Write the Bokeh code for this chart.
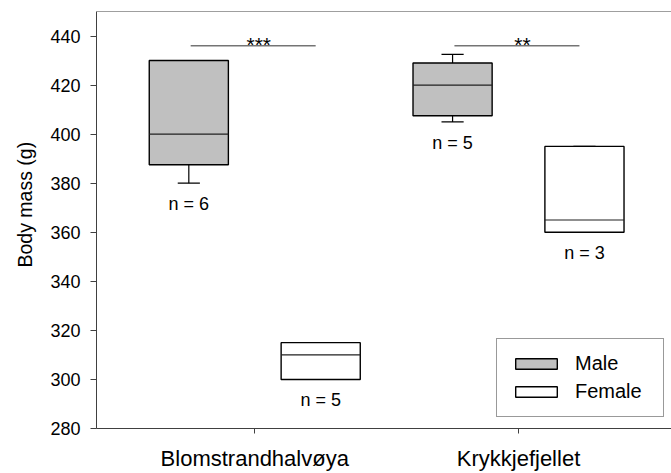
import numpy as np
from bokeh.plotting import figure
from bokeh.models import FixedTicker, Span, Title, Legend, LegendItem, ColumnDataSource
from bokeh.core.properties import value
from bokeh.embed import file_html
from bokeh.resources import INLINE

# ---------------- data ----------------
sites = ["Blomstrandhalvøya", "Krykkjefjellet"]
groups = ["Male", "Female"]

male_q1 = [387.5, 407.5]
male_med = [400.0, 420.0]
male_q3 = [430.0, 429.0]
male_wlo = [380.0, 405.0]
male_whi = [430.0, 432.5]
male_n = [6, 5]

female_q1 = [300.0, 360.0]
female_med = [310.0, 365.0]
female_q3 = [315.0, 395.0]
female_wlo = [300.0, 360.0]
female_whi = [315.0, 395.0]
female_n = [5, 3]

sig_labels = ["***", "**"]
y_ticks = [280, 300, 320, 340, 360, 380, 400, 420, 440]

# ---------------- styling ----------------
FONT = "Liberation Sans"
AXIS_COLOR = "#404040"
MALE_FILL = "#c0c0c0"
FEMALE_FILL = "#ffffff"
OFFSET = 0.25
BOX_W = 0.30
CAP_W = 0.084
X_START, X_END = 0.40, 2.58
Y_START, Y_END = 280, 450

p = figure(width=671, height=473, x_range=(X_START, X_END), y_range=(Y_START, Y_END),
           output_backend="svg", toolbar_location=None,
           min_border_left=96, min_border_right=0, min_border_top=11, min_border_bottom=44)
p.outline_line_color = None
p.grid.visible = False
p.background_fill_color = "white"
p.border_fill_color = "white"

site_x = np.arange(1, len(sites) + 1, dtype=float)


def draw_group(xs, q1, med, q3, wlo, whi, ns, fill):
    src = ColumnDataSource(dict(
        x=xs, q1=q1, med=med, q3=q3, wlo=wlo, whi=whi,
        xl=xs - BOX_W / 2, xr=xs + BOX_W / 2,
        cl=xs - CAP_W / 2, cr=xs + CAP_W / 2,
        lab=[f"n = {n}" for n in ns],
    ))
    # whiskers
    p.segment(x0="x", y0="q1", x1="x", y1="wlo", source=src, line_color="black", line_width=1.2)
    p.segment(x0="x", y0="q3", x1="x", y1="whi", source=src, line_color="black", line_width=1.2)
    p.segment(x0="cl", y0="wlo", x1="cr", y1="wlo", source=src, line_color="black", line_width=1.2)
    p.segment(x0="cl", y0="whi", x1="cr", y1="whi", source=src, line_color="black", line_width=1.2)
    # box
    r = p.vbar(x="x", width=BOX_W, bottom="q1", top="q3", source=src,
               fill_color=fill, line_color="black", line_width=1.4)
    # median
    p.segment(x0="xl", y0="med", x1="xr", y1="med", source=src, line_color="#202020", line_width=1.2)
    # n labels
    p.text(x="x", y="wlo", text="lab", source=src, text_align="center", text_baseline="middle",
           y_offset=21, text_font=value(FONT), text_font_size="18px", text_color="black")
    return r


r_male = draw_group(site_x - OFFSET, male_q1, male_med, male_q3, male_wlo, male_whi, male_n, MALE_FILL)
r_female = draw_group(site_x + OFFSET, female_q1, female_med, female_q3, female_wlo, female_whi, female_n, FEMALE_FILL)

# significance bars
SIG_Y = 436
sig_src = ColumnDataSource(dict(
    x0=site_x - 0.243, x1=site_x + 0.231, y=[SIG_Y] * len(sites),
    tx=site_x + 0.015, lab=sig_labels,
))
p.segment(x0="x0", y0="y", x1="x1", y1="y", source=sig_src, line_color="#303030", line_width=1)
p.text(x="tx", y="y", text="lab", source=sig_src, text_align="center", text_baseline="alphabetic",
       y_offset=-1, text_font=value(FONT), text_font_size="21px", text_color="black")

# top frame line
p.add_layout(Span(location=Y_END, dimension="width", line_color=AXIS_COLOR, line_width=1))

# axes
p.xaxis.ticker = FixedTicker(ticks=list(site_x))
p.xaxis.major_label_overrides = {float(x): s for x, s in zip(site_x, sites)}
p.xaxis.major_label_overrides.update({int(x): s for x, s in zip(site_x, sites)})
p.yaxis.ticker = FixedTicker(ticks=y_ticks)
for ax in (p.xaxis[0], p.yaxis[0]):
    ax.axis_line_color = AXIS_COLOR
    ax.axis_line_width = 1
    ax.major_tick_line_color = AXIS_COLOR
    ax.major_tick_in = 0
    ax.minor_tick_line_color = None
    ax.major_label_text_font = FONT
    ax.major_label_text_color = "black"
p.yaxis.major_tick_out = 6
p.yaxis.major_label_standoff = 10
p.yaxis.major_label_text_font_size = "18px"
p.xaxis.major_tick_out = 5
p.xaxis.major_label_standoff = 12
p.xaxis.major_label_text_font_size = "22px"

# y axis title as a left-side title: starts ~161 px above the frame bottom
p.add_layout(Title(text="Body mass (g)", align="left", vertical_align="top", offset=161, standoff=20,
                   text_font=FONT, text_font_size="19.5px", text_font_style="normal",
                   text_color="black"), "left")

# legend
legend = Legend(items=[LegendItem(label=groups[0], renderers=[r_male]),
                       LegendItem(label=groups[1], renderers=[r_female])],
                location=(400, 11))
legend.glyph_width = 52
legend.glyph_height = 13
legend.label_standoff = 13
legend.label_width = 75
legend.label_height = 20
legend.spacing = 5
legend.padding = 13
legend.margin = 0
legend.border_line_color = "#333333"
legend.border_line_width = 1
legend.label_text_font = FONT
legend.label_text_font_size = "20px"
legend.label_text_color = "black"
legend.background_fill_alpha = 1
p.add_layout(legend)

open("out.html", "w").write(file_html(p, INLINE))
